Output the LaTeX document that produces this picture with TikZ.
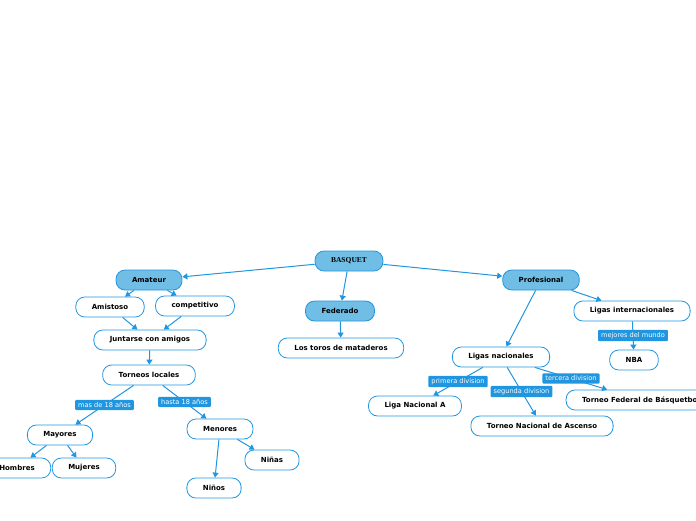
\documentclass[tikz,border=0pt]{standalone}
\usepackage{fontspec}
\setmainfont{DejaVu Sans}
\newfontfamily\rootfont{Liberation Serif}
\usetikzlibrary{arrows.meta}
\definecolor{mapblue}{RGB}{33,150,224}
\definecolor{mapfill}{RGB}{112,189,229}
\begin{document}
\begin{tikzpicture}[x=1pt,y=-1pt,
  topic/.style={draw=mapblue, fill=mapfill, line width=0.8pt, rounded corners=9pt, minimum height=20pt, inner xsep=16pt, font=\bfseries\fontsize{7}{8}\selectfont},
  leaf/.style={topic, fill=white},
  tag/.style={fill=mapblue, text=white, inner xsep=3pt, inner ysep=2.5pt, rounded corners=1pt, font=\fontsize{6.6}{7}\selectfont},
  link/.style={draw=mapblue, line width=1pt, -{Triangle[width=6pt,length=5pt]}}]
\useasboundingbox (0,0) rectangle (696,520);
\node[topic, font=\rootfont\bfseries\fontsize{7.5}{8}\selectfont] (basquet) at (349,261) {BASQUET};
\node[topic] (amateur) at (149,280) {Amateur};
\node[topic] (federado) at (340,311) {Federado};
\node[topic] (profesional) at (541,280) {Profesional};
\node[leaf] (amistoso) at (110,307) {Amistoso};
\node[leaf] (competitivo) at (195,306) {competitivo};
\node[leaf] (juntarse) at (150,340) {Juntarse con amigos};
\node[leaf] (locales) at (149,375) {Torneos locales};
\node[leaf] (mayores) at (60,435) {Mayores};
\node[leaf] (menores) at (220,429) {Menores};
\node[leaf] (hombres) at (17,468) {Hombres};
\node[leaf] (mujeres) at (84,468) {Mujeres};
\node[leaf] (ninas) at (272,460) {Niñas};
\node[leaf] (ninos) at (214,488) {Niños};
\node[leaf] (toros) at (341,348) {Los toros de mataderos};
\node[leaf] (internac) at (632,311) {Ligas internacionales};
\node[leaf] (nba) at (634,360) {NBA};
\node[leaf] (nacionales) at (501,357) {Ligas nacionales};
\node[leaf] (ligaa) at (415,406) {Liga Nacional A};
\node[leaf] (ascenso) at (542,426) {Torneo Nacional de Ascenso};
\node[leaf] (federal) at (641,400) {Torneo Federal de Básquetbol};
% ramas
\draw[link] (basquet) -- (amateur);
\draw[link] (basquet) -- (federado);
\draw[link] (basquet) -- (profesional);
\draw[link] (amateur) -- (amistoso);
\draw[link] (amateur) -- (competitivo);
\draw[link] (amistoso) -- (juntarse);
\draw[link] (competitivo) -- (juntarse);
\draw[link] (juntarse) -- (locales);
\draw[link] (locales) -- node[tag] {mas de 18 años} (mayores);
\draw[link] (locales) -- node[tag] {hasta 18 años} (menores);
\draw[link] (mayores) -- (hombres);
\draw[link] (mayores) -- (mujeres);
\draw[link] (menores) -- (ninas);
\draw[link] (menores) -- (ninos);
\draw[link] (federado) -- (toros);
\draw[link] (profesional) -- (internac);
\draw[link] (profesional) -- (nacionales);
\draw[link] (internac) -- node[tag] {mejores del mundo} (nba);
\draw[link] (nacionales) -- node[tag] {primera division} (ligaa);
\draw[link] (nacionales) -- node[tag] {segunda division} (ascenso);
\draw[link] (nacionales) -- node[tag] {tercera division} (federal);
\end{tikzpicture}
\end{document}
